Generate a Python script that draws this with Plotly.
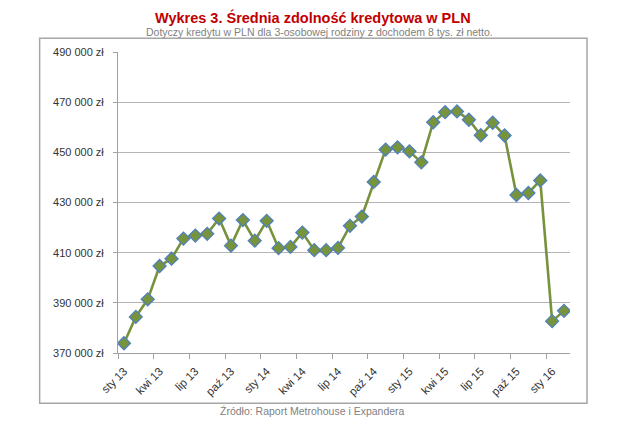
import plotly.graph_objects as go

# ---- data ----
months = ["sty 13","lut 13","mar 13","kwi 13","maj 13","cze 13","lip 13","sie 13","wrz 13","paź 13","lis 13","gru 13",
          "sty 14","lut 14","mar 14","kwi 14","maj 14","cze 14","lip 14","sie 14","wrz 14","paź 14","lis 14","gru 14",
          "sty 15","lut 15","mar 15","kwi 15","maj 15","cze 15","lip 15","sie 15","wrz 15","paź 15","lis 15","gru 15",
          "sty 16","lut 16"]
values = [373900, 384400, 391400, 404700, 407600, 415600, 416800, 417500, 423600, 412800, 423000, 414800,
          422700, 411800, 412300, 418000, 411000, 411000, 411900, 420700, 424400, 438200, 451100, 452000,
          450400, 446000, 462000, 466000, 466300, 463000, 456800, 461800, 456700, 433000, 433800, 438800,
          382700, 386800]
tick_labels = ["sty 13","kwi 13","lip 13","paź 13","sty 14","kwi 14","lip 14","paź 14","sty 15","kwi 15","lip 15","paź 15","sty 16"]
y_ticks = [370000, 390000, 410000, 430000, 450000, 470000, 490000]
y_tick_text = [f"{v:,}".replace(",", " ") + " zł" for v in y_ticks]

title = "Wykres 3. Średnia zdolność kredytowa w PLN"
subtitle = "Dotyczy kredytu w PLN dla 3-osobowej rodziny z dochodem 8 tys. zł netto."
source = "Źródło: Raport Metrohouse i Expandera"

idx = list(range(len(months)))
label_pos = [months.index(t) for t in tick_labels]
boundary_pos = [p - 0.5 for p in label_pos]

W, H = 640, 425
L, R, T, B = 118.3, 70, 51.7, 72.3
pw, ph = W - L - R, H - T - B

def px_x(x):
    return (x - L) / pw

def px_y(y):
    return (H - B - y) / ph

FONT = "Liberation Sans, Arial, sans-serif"
GRID = "#b4b4b4"
AXIS = "#a0a0a0"

fig = go.Figure()
fig.add_trace(go.Scatter(
    x=idx, y=values, mode="lines+markers",
    line=dict(color="#76923C", width=2.6),
    marker=dict(symbol="diamond", size=10, color="#77933C",
                line=dict(color="#4F81BD", width=1.3)),
    hoverinfo="x+y", showlegend=False))
# helper trace for the boundary-tick axis
fig.add_trace(go.Scatter(
    x=idx, y=values, xaxis="x2", mode="lines", line=dict(width=0),
    opacity=0, hoverinfo="skip", showlegend=False))

xr = [-0.5, len(months) - 0.5]
fig.update_layout(
    width=W, height=H, margin=dict(l=L, r=R, t=T, b=B),
    paper_bgcolor="white", plot_bgcolor="white",
    font=dict(family=FONT, size=11, color="#333333"),
    xaxis=dict(range=xr, tickmode="array", tickvals=label_pos, ticktext=tick_labels,
               tickangle=-45, ticks="", showgrid=False, zeroline=False,
               ticklabelstandoff=6,
               showline=True, linecolor=AXIS, linewidth=1,
               tickfont=dict(family=FONT, size=11.5, color="#333333")),
    xaxis2=dict(range=xr, overlaying="x", side="bottom", tickmode="array",
                tickvals=boundary_pos, showticklabels=False, ticks="outside",
                ticklen=5, tickcolor=AXIS, showgrid=False, zeroline=False, showline=False),
    yaxis=dict(range=[370000, 490000], tickmode="array", tickvals=y_ticks,
               ticktext=y_tick_text, ticks="outside", ticklen=4,
               tickcolor=AXIS, ticklabelstandoff=7,
               showgrid=True, gridcolor=GRID, gridwidth=1, zeroline=False,
               showline=True, linecolor=AXIS, linewidth=1,
               tickfont=dict(family=FONT, size=11, color="#333333")),
    shapes=[dict(type="rect", xref="paper", yref="paper",
                 x0=px_x(40), x1=px_x(587), y0=px_y(403), y1=px_y(38),
                 line=dict(color="#a6a6a6", width=1.5), layer="below")],
    annotations=[
        dict(text="<b>" + title + "</b>", xref="paper", yref="paper",
             x=px_x(313), y=px_y(17), xanchor="center", yanchor="middle",
             showarrow=False, font=dict(family=FONT, size=14.5, color="#C00000")),
        dict(text=subtitle, xref="paper", yref="paper",
             x=px_x(320), y=px_y(32), xanchor="center", yanchor="middle",
             showarrow=False, font=dict(family=FONT, size=10.5, color="#7f7f7f")),
        dict(text=source, xref="paper", yref="paper",
             x=px_x(313), y=px_y(411), xanchor="center", yanchor="middle",
             showarrow=False, font=dict(family=FONT, size=10.5, color="#7f7f7f")),
    ],
)

fig.write_html("out.html")
